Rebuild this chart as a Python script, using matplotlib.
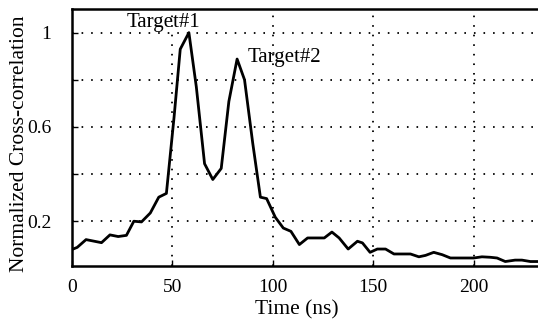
import numpy as np
import matplotlib
matplotlib.use('Agg')
import matplotlib.pyplot as plt

# values
time_ns = [0, 2.6, 7, 14.7, 18.9, 23, 27.1, 30.8, 34.6, 39, 43.2, 47,
           50.8, 53.9, 58.2, 61.9, 66, 70.1, 74.3, 78.1, 82.2, 85.9, 90,
           93.8, 96.9, 101.2, 105.2, 109, 113.2, 117.3, 125.6, 129.4, 133,
           137.5, 142.1, 144.6, 148.4, 152, 156.1, 160.3, 168.5, 172.7, 176,
           180.1, 184.3, 188.4, 200, 204.1, 208.3, 211.6, 215.7, 220.6, 224,
           228.2, 232]
xcorr = [0.080, 0.089, 0.122, 0.109, 0.142, 0.135, 0.140, 0.200, 0.197,
         0.235, 0.302, 0.318, 0.64, 0.93, 1.0, 0.77, 0.444, 0.377, 0.424,
         0.708, 0.888, 0.80, 0.53, 0.302, 0.296, 0.217, 0.171, 0.157, 0.101,
         0.129, 0.129, 0.154, 0.129, 0.082, 0.115, 0.108, 0.068, 0.082,
         0.082, 0.061, 0.061, 0.049, 0.055, 0.068, 0.058, 0.044, 0.044,
         0.049, 0.047, 0.044, 0.029, 0.035, 0.035, 0.029, 0.029]
x_ticks = [0, 50, 100, 150, 200]
y_ticks = [0.2, 0.4, 0.6, 0.8, 1.0]
y_tick_labels = ['0.2', '', '0.6', '', '1']

plt.rcParams['font.family'] = ['Liberation Serif', 'DejaVu Serif']
plt.rcParams['font.size'] = 14

fig = plt.figure(figsize=(5.38, 3.24), dpi=100)
ax = fig.add_axes([0.1338, 0.179, 0.8662, 0.793])

ax.plot(time_ns, xcorr, color='black', linewidth=2.0)

ax.set_xlim(0, 232)
ax.set_ylim(0.01, 1.1)
ax.set_xticks(x_ticks)
ax.set_yticks(y_ticks)
ax.set_yticklabels(y_tick_labels)
ax.tick_params(direction='in', length=4, width=1, labelsize=14)
ax.tick_params(axis='x', pad=9)
ax.tick_params(axis='y', pad=15)

ax.grid(True, color='black', linestyle=(0, (0.9, 4.4)), linewidth=1.3)

for side in ['left', 'bottom', 'top']:
    ax.spines[side].set_linewidth(1.8)
ax.spines['right'].set_visible(False)

ax.text(45.7, 1.045, 'Target#1', ha='center', va='center', fontsize=15)
ax.text(87.5, 0.895, 'Target#2', ha='left', va='center', fontsize=15)

ax.set_xlabel('Time (ns)', fontsize=15.5)
ax.set_ylabel('Normalized Cross-correlation', fontsize=15.5)
ax.xaxis.set_label_coords(0.482, -0.135)
ax.yaxis.set_label_coords(-0.092, 0.474)

fig.savefig('out.png', dpi=100)
